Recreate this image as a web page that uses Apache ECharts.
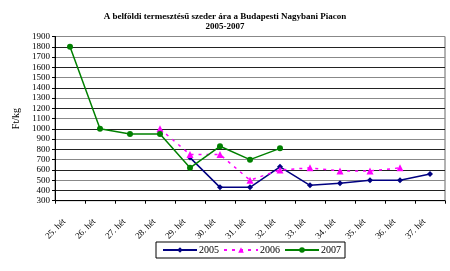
<!DOCTYPE html>
<html>
<head>
<meta charset="utf-8">
<script src="https://cdn.jsdelivr.net/npm/echarts@6/dist/echarts.min.js"></script>
<style>html,body{margin:0;padding:0;background:#fff}#c{width:450px;height:271px}</style>
</head>
<body>
<div id="c"></div>
<script>
var categories = ['25. hét','26. hét','27. hét','28. hét','29. hét','30. hét','31. hét','32. hét','33. hét','34. hét','35. hét','36. hét','37. hét'];
var s2005 = [null, null, null, null, 720, 430, 430, 630, 450, 470, 500, 500, 560];
var s2006 = [null, null, null, 1000, 750, 750, 500, 600, 620, 590, 590, 620, null];
var s2007 = [1800, 1000, 950, 950, 620, 830, 700, 810, null, null, null, null, null];
var titleText = 'A belföldi termesztésű szeder ára a Budapesti Nagybani Piacon\n2005-2007';
var yName = 'Ft/kg';

var serif = '"Liberation Serif","Times New Roman",serif';
var chart = echarts.init(document.getElementById('c'), null, {renderer: 'canvas'});
chart.setOption({
  animation: false,
  title: {
    text: titleText, left: 'center', top: 7,
    textStyle: {fontFamily: serif, fontSize: 9, fontWeight: 'bold', color: '#000', lineHeight: 10}
  },
  legend: {
    bottom: 13, left: 156,
    itemWidth: 34, itemHeight: 7, itemGap: 4,
    padding: [3, 4, 3, 6],
    borderColor: '#000', borderWidth: 1,
    textStyle: {fontFamily: serif, fontSize: 10, color: '#000', padding: [0,0,0,-3]},
    data: ['2005','2006','2007']
  },
  grid: {left: 55, right: 5, top: 36.5, bottom: 70.3, show: true, borderColor: '#666', borderWidth: 1},
  xAxis: {
    type: 'category', data: categories, boundaryGap: true,
    axisLine: {lineStyle: {color: '#000', width: 1}},
    axisTick: {show: true, interval: 0, length: 3, lineStyle: {color: '#000'}},
    axisLabel: {interval: 0, rotate: 45, margin: 14, fontFamily: serif, fontSize: 9, color: '#000', padding: [0, 8, 0, 0]}
  },
  yAxis: {
    type: 'value', min: 300, max: 1900, interval: 100,
    name: yName, nameLocation: 'middle', nameGap: 32, nameRotate: 90,
    nameTextStyle: {fontFamily: serif, fontSize: 10, color: '#000'},
    axisLine: {show: true, lineStyle: {color: '#000'}},
    axisTick: {show: true, length: 3, lineStyle: {color: '#000'}},
    axisLabel: {fontFamily: serif, fontSize: 9, color: '#000', margin: 5, formatter: function (v) { return String(v); }},
    splitLine: {lineStyle: {color: ['#888','#222'], width: 1}}
  },
  series: [
    {name: '2005', type: 'line', data: s2005, connectNulls: false,
     symbol: 'diamond', symbolSize: 6,
     lineStyle: {color: '#000080', width: 1.5}, itemStyle: {color: '#000080'}},
    {name: '2006', type: 'line', data: s2006,
     symbol: 'triangle', symbolSize: 7,
     lineStyle: {color: '#FF00FF', width: 1.5, type: [3, 5]}, itemStyle: {color: '#FF00FF'}},
    {name: '2007', type: 'line', data: s2007,
     symbol: 'circle', symbolSize: 6,
     lineStyle: {color: '#008000', width: 1.5}, itemStyle: {color: '#008000'}}
  ]
});
</script>
</body>
</html>
